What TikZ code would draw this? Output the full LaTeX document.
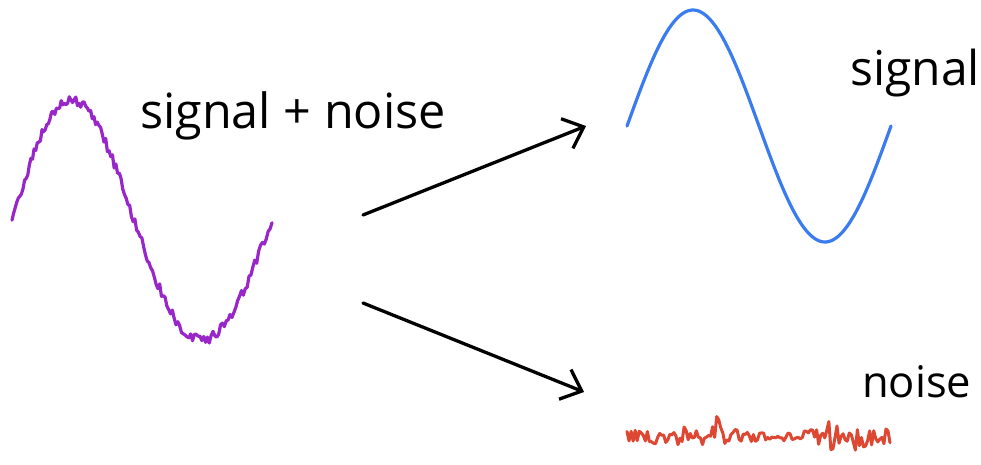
\documentclass[tikz,border=0pt]{standalone}
\usepackage{fontspec}
\setmainfont{Open Sans}
\usetikzlibrary{arrows.meta}
\definecolor{sigblue}{RGB}{58,124,240}
\definecolor{mixpurple}{RGB}{153,38,200}
\definecolor{noisered}{RGB}{222,72,50}
\tikzset{
  lbl/.style={anchor=base west, inner sep=0pt},
  arr/.style={line width=3.3pt, -{Straight Barb[length=18pt,width=32pt,line width=3.3pt]}, line cap=round},
  wave/.style={line width=3.2pt, line cap=round, line join=round}
}
\begin{document}
\begin{tikzpicture}[x=1pt,y=-1pt]
\useasboundingbox (0,0) rectangle (981,464);
\pgfmathsetseed{11}
% noisy signal
\draw[wave, mixpurple] plot[domain=0:360, samples=150] ({12+\x/360*260-8*sin(\x/2)}, {220-120*sin(\x)+5*rand});
% clean signal
\draw[wave, sigblue] plot[domain=0:360, samples=120, smooth] ({627+\x/360*264}, {126-116*sin(\x)});
% noise
\draw[wave, noisered, line width=3pt] plot[domain=627:890, samples=130] (\x, {437+rand*(8-5*exp(-((\x-775)/22)^2)+18*exp(-((\x-717)/4)^2)+12*exp(-((\x-832)/5)^2)+10*exp(-((\x-858)/6)^2)+8*exp(-((\x-680)/4)^2))});
% labels
\node[lbl, font=\fontsize{48.5}{52}\selectfont] (mix) at (140,128) {signal + noise};
\node[lbl, font=\fontsize{48}{52}\selectfont] (sig) at (850,85) {signal};
\node[lbl, font=\fontsize{43.5}{48}\selectfont] (noi) at (862,397) {noise};
% arrows
\coordinate (a1s) at (363,215);
\coordinate (a1e) at (586,126);
\coordinate (a2s) at (363,303);
\coordinate (a2e) at (584,392);
\draw[arr] (a1s) -- (a1e);
\draw[arr] (a2s) -- (a2e);
\end{tikzpicture}
\end{document}
